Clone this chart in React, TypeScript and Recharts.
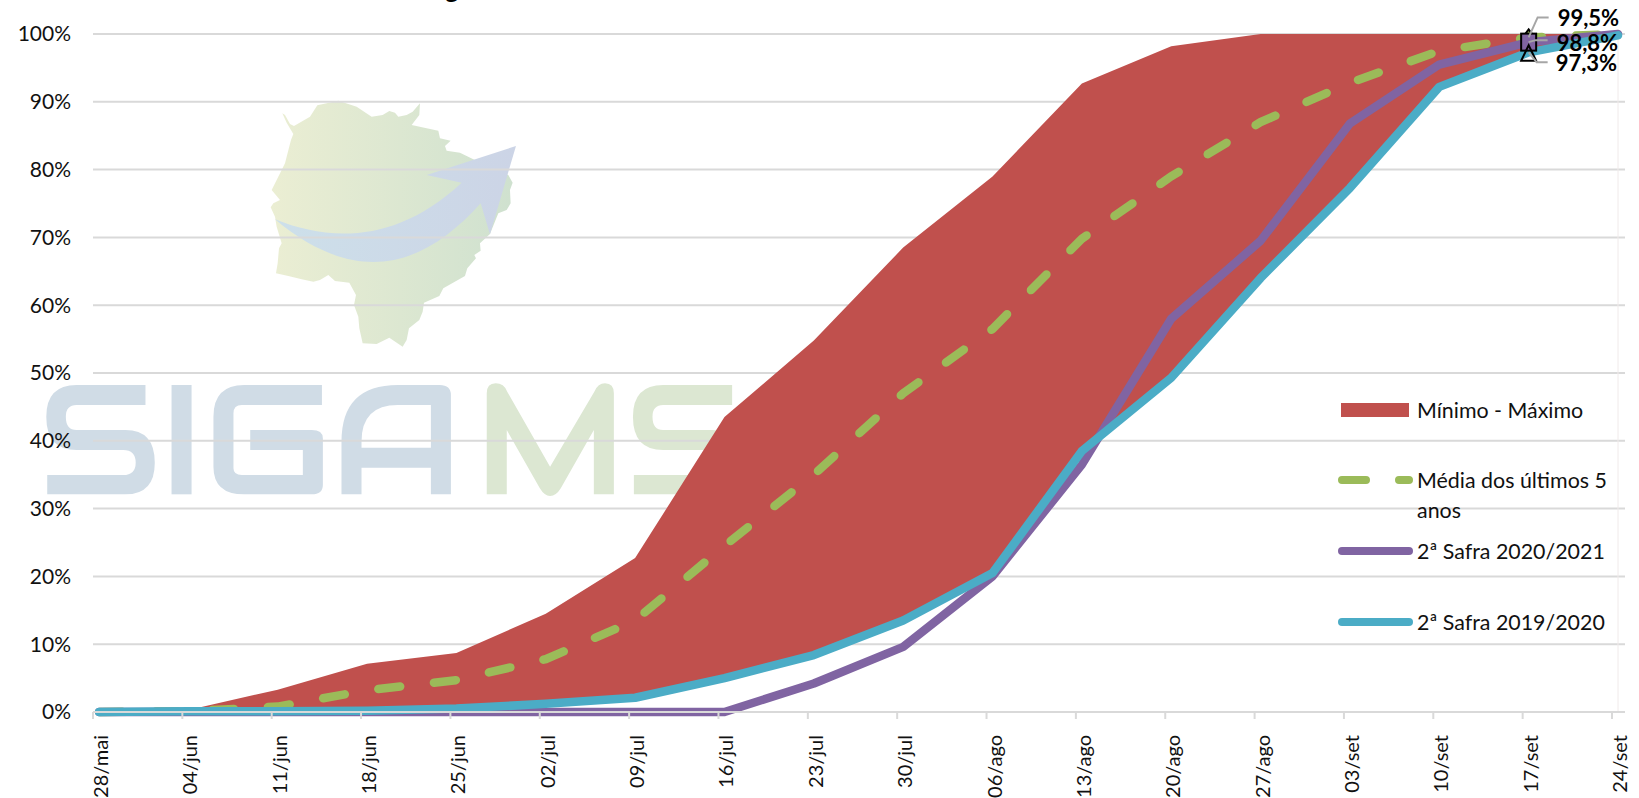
import { Area, CartesianGrid, ComposedChart, Legend, Line, ReferenceLine, XAxis, YAxis } from "recharts";

const FONT = "Lato, 'Open Sans', sans-serif";

const weeks = ["28/mai", "04/jun", "11/jun", "18/jun", "25/jun", "02/jul", "09/jul", "16/jul", "23/jul", "30/jul", "06/ago", "13/ago", "20/ago", "27/ago", "03/set", "10/set", "17/set", "24/set"];
const minimo = [0, 0.1, 0.1, 0.2, 0.5, 1.2, 2.1, 5, 8.4, 13.5, 20.5, 38.5, 49.3, 64, 77.3, 92.2, 97.3, 99.8];
const maximo = [0, 0.3, 3.3, 7.1, 8.7, 14.5, 22.7, 43.5, 54.8, 68.5, 79, 92.7, 98.2, 100, 100, 100, 100, 100];
const media = [0, 0.1, 0.8, 3.2, 4.7, 7.8, 13.5, 24.5, 35, 47, 56.5, 69.8, 79, 87, 92.8, 97.5, 99.5, 100];
const safra2021 = [0, 0, 0, 0, 0, 0, 0, 0, 4.2, 9.6, 20, 36.5, 58, 69.5, 86.8, 95.5, 98.8, 100];
const safra1920 = [0, 0.1, 0.1, 0.2, 0.5, 1.2, 2.1, 5, 8.4, 13.5, 20.5, 38.5, 49.3, 64, 77.3, 92.2, 97.3, 99.8];
const yTicks = [0, 10, 20, 30, 40, 50, 60, 70, 80, 90, 100];
const seriesNames = ["Mínimo - Máximo", "Média dos últimos 5 anos", "2ª Safra 2020/2021", "2ª Safra 2019/2020"];

const LAST_MARKED = 16;

const data = weeks.map((week, i) => ({
  week,
  faixa: [minimo[i], maximo[i]],
  media: media[i],
  safra2021: safra2021[i],
  safra1920: safra1920[i],
}));

const pct = (v: number) => `${v.toFixed(1).replace(".", ",")}%`;

function XTick({ x, y, payload }: any) {
  return (
    <g>
      <line x1={x - 6} x2={x - 6} y1={y - 8} y2={y - 1} stroke="#d9d9d9" strokeWidth={2} />
      <text
        transform={`translate(${x + 1} ${y + 15}) rotate(-90)`}
        textAnchor="end"
        dominantBaseline="central"
        fontFamily={FONT}
        fontSize={20}
        fill="#111"
      >
        {payload.value}
      </text>
    </g>
  );
}

const dotOnly = (draw: (cx: number, cy: number) => any) => (p: any) =>
  p.index === LAST_MARKED ? <g key={p.index}>{draw(p.cx, p.cy)}</g> : <g key={p.index} />;

const labelOnly = (dx: number, dy: number, leader: (x: number, y: number) => string) => (p: any) => {
  if (p.index !== LAST_MARKED) return <g key={p.index} />;
  return (
    <g key={p.index}>
      <polyline points={leader(p.x, p.y)} fill="none" stroke="#a6a6a6" strokeWidth={2} />
      <text x={p.x + dx} y={p.y + dy} dominantBaseline="central" fontFamily={FONT} fontWeight={700} fontSize={22} fill="#000">
        {pct(p.value)}
      </text>
    </g>
  );
};

function ChartLegend({ payload }: any) {
  const rows = [
    { y: 15, text: ["Mínimo - Máximo"] },
    { y: 85, text: ["Média dos últimos 5", "anos"] },
    { y: 156, text: ["2ª Safra 2020/2021"] },
    { y: 227, text: ["2ª Safra 2019/2020"] },
  ];
  return (
    <svg width={300} height={250} style={{ display: "block" }}>
      {seriesNames.map((name, i) => {
        const item = (payload ?? []).find((p: any) => p.value === name);
        if (!item) return null;
        const row = rows[i];
        return (
          <g key={name}>
            {i === 0 ? (
              <rect x={9} y={row.y - 7} width={68} height={14} fill={item.color} />
            ) : (
              <line
                x1={10}
                x2={77}
                y1={row.y}
                y2={row.y}
                stroke={item.color}
                strokeWidth={8}
                strokeLinecap="round"
                strokeDasharray={i === 1 ? "24 33" : undefined}
              />
            )}
            {row.text.map((t, j) => (
              <text key={t} x={85} y={row.y + j * 30} dominantBaseline="central" fontFamily={FONT} fontSize={21.4} fill="#111">
                {t}
              </text>
            ))}
          </g>
        );
      })}
    </svg>
  );
}

const MAP_OUTLINE =
  "157,340 170,368 190,402 183,420 170,470 165,490 155,510 125,570 150,600 130,610 122,622 135,650 140,680 155,730 147,745 143,790 138,820 175,828 215,838 250,845 270,840 295,825 315,843 358,848 378,885 372,915 385,950 388,985 398,1030 440,1032 478,1013 518,1040 530,1020 537,985 568,960 578,935 582,908 628,888 640,865 705,828 712,805 738,775 733,765 752,752 750,730 780,702 805,640 830,630 842,610 840,570 848,548 835,525 730,478 690,458 650,452 645,438 662,422 630,415 625,392 590,385 545,375 568,345 570,310 548,335 530,345 505,350 495,338 478,333 458,345 425,350 380,320 325,302 262,316 240,350 192,378 180,372 165,345";

const S_PATH =
  "M248 45H100Q35 45 35 140Q35 240 100 240H200Q227 240 227 278Q227 315 200 315H37V373H205Q268 373 268 278Q268 180 205 180H100Q77 180 77 140Q77 105 100 105H248Z";

// marca d'agua atras do grafico
function Watermark() {
  return (
    <svg width={1639} height={798} style={{ position: "absolute", left: 0, top: 0 }}>
      <defs>
        <linearGradient id="mapa" x1="0" x2="1" y1="0" y2="0">
          <stop offset="0" stopColor="#ebeed3" />
          <stop offset="1" stopColor="#cfe1cf" />
        </linearGradient>
        <linearGradient id="seta" x1="0" x2="1" y1="0" y2="0">
          <stop offset="0" stopColor="#cde0ea" />
          <stop offset="1" stopColor="#ccd4e6" />
        </linearGradient>
      </defs>
      <g transform="translate(230 0) scale(0.3333)">
        <polygon points={MAP_OUTLINE} fill="url(#mapa)" strokeLinejoin="round" />
        <path
          d="M135 658C300 725 500 730 695 548L590 525L858 438L780 703L752 610C600 780 400 880 135 658Z"
          fill="url(#seta)"
        />
      </g>
      <g transform="translate(30 370) scale(0.4656 0.3333)">
        <g fill="#d0dce6">
          <path d={S_PATH} />
          <rect x={304} y={45} width={43} height={328} />
          <path d="M627 45H460Q394 45 394 140V290Q394 373 460 373H605Q629 373 629 345V205Q629 180 605 180H473V240H586V315H455Q437 315 437 295V130Q437 105 455 105H627Z" />
          <path
            fillRule="evenodd"
            d="M669 373V215Q669 45 790 45H880Q904 45 904 75V373H861V293H712V373ZM712 233H861V105H790Q712 105 712 215Z"
          />
        </g>
        <g fill="#dce7d2">
          <path d="M981 373V70Q981 40 1000 40Q1018 40 1025 65L1117 290L1212 65Q1220 40 1235 40Q1254 40 1254 70V373H1211V180L1140 355Q1130 378 1117 378Q1105 378 1095 355L1024 180V373Z" />
          <path d={S_PATH} transform="translate(1260 0)" />
        </g>
      </g>
      <text x={445} y={-2} fontFamily={FONT} fontWeight={700} fontSize={26} fill="#000">
        g
      </text>
    </svg>
  );
}

export default function App() {
  return (
    <div style={{ position: "absolute", left: 0, top: 0, width: 1639, height: 798, background: "#fff", overflow: "hidden" }}>
      <Watermark />
      <div style={{ position: "absolute", left: 0, top: 0 }}>
        <ComposedChart width={1639} height={798} data={data} margin={{ top: 34, right: 14, bottom: 0, left: 0 }}>
          <CartesianGrid horizontal vertical={false} stroke="#d9d9d9" strokeWidth={2} />
          <XAxis
            dataKey="week"
            scale="point"
            padding={{ left: 6, right: 7 }}
            interval={0}
            height={86}
            tickLine={false}
            tick={<XTick />}
            stroke="#d9d9d9"
            strokeWidth={2}
          />
          <YAxis
            type="number"
            domain={[0, 100]}
            ticks={yTicks}
            width={93}
            axisLine={false}
            tickLine={false}
            tickMargin={16}
            tickFormatter={(v: number) => `${v}%`}
            tick={{ fontFamily: FONT, fontSize: 21, fill: "#111" }}
          />
          <ReferenceLine x="24/set" stroke="#f0eaea" strokeWidth={1} />
          <Legend
            layout="vertical"
            align="center"
            verticalAlign="middle"
            content={<ChartLegend />}
            wrapperStyle={{ left: 1332, top: 395, width: 300, height: 250 }}
          />
          <Area
            dataKey="faixa"
            name={seriesNames[0]}
            fill="#c0504d"
            fillOpacity={1}
            stroke="none"
            dot={false}
            activeDot={false}
            isAnimationActive={false}
          />
          <Line
            dataKey="media"
            name={seriesNames[1]}
            stroke="#9bbb59"
            strokeWidth={8.5}
            strokeLinecap="round"
            strokeDasharray="22 34"
            strokeDashoffset={-1}
            dot={dotOnly((cx, cy) => (
              <polygon
                points={`${cx},${cy - 8} ${cx + 6},${cy} ${cx},${cy + 8} ${cx - 6},${cy}`}
                fill="#9bbb59"
                stroke="#000"
                strokeWidth={2}
              />
            ))}
            label={labelOnly(29, -20, (x, y) => `${x},${y} ${x + 9},${y - 20} ${x + 20},${y - 20}`)}
            isAnimationActive={false}
          />
          <Line
            dataKey="safra2021"
            name={seriesNames[2]}
            stroke="#8064a2"
            strokeWidth={8.5}
            strokeLinejoin="round"
            strokeLinecap="round"
            dot={dotOnly((cx, cy) => (
              <rect x={cx - 7.5} y={cy - 8.5} width={15} height={17} fill="#8064a2" stroke="#000" strokeWidth={2} />
            ))}
            label={labelOnly(28, 0, (x, y) => `${x},${y} ${x + 7},${y - 2} ${x + 19},${y - 2}`)}
            isAnimationActive={false}
          />
          <Line
            dataKey="safra1920"
            name={seriesNames[3]}
            stroke="#4bacc6"
            strokeWidth={8.5}
            strokeLinejoin="round"
            strokeLinecap="round"
            dot={dotOnly((cx, cy) => (
              <polygon
                points={`${cx},${cy - 7} ${cx + 7.5},${cy + 8.5} ${cx - 7.5},${cy + 8.5}`}
                fill="none"
                stroke="#000"
                strokeWidth={2}
              />
            ))}
            label={labelOnly(27, 10, (x, y) => `${x},${y} ${x + 8},${y + 10} ${x + 19},${y + 10}`)}
            isAnimationActive={false}
          />
        </ComposedChart>
      </div>
    </div>
  );
}
